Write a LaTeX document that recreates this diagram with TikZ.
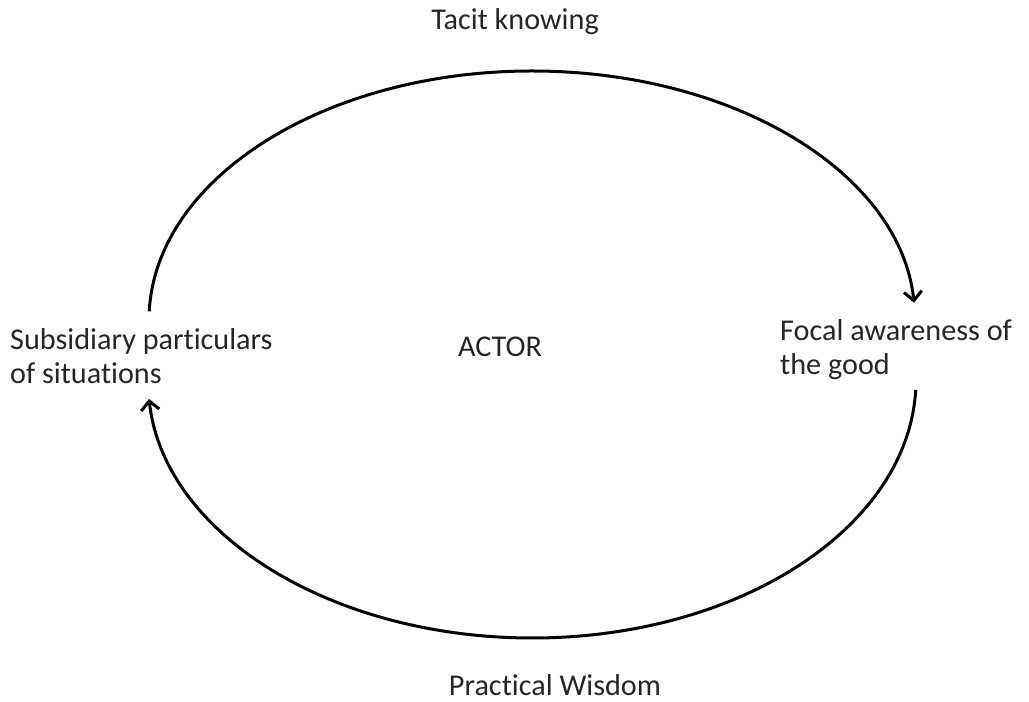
\documentclass[tikz,border=0pt]{standalone}
\usepackage{fontspec}
\setmainfont[Ligatures=CommonOff]{Carlito}
\usetikzlibrary{arrows.meta}
\begin{document}
\begin{tikzpicture}[x=1pt,y=1pt,
  lbl/.style={inner sep=0pt, font=\fontsize{30.2}{34}\selectfont, text=black!85},
  cyc/.style={line width=3pt, -{Straight Barb[length=9pt,width=18pt]}}]
\useasboundingbox (0,0) rectangle (1029,702);
% labels
\node[lbl] (tacit) at (515,680) {Tacit knowing};
\node[lbl, anchor=west, align=left] (subs) at (10,346) {Subsidiary particulars\\of situations};
\node[lbl] (actor) at (500,355) {ACTOR};
\node[lbl, anchor=west, align=left] (focal) at (780,352) {Focal awareness of\\the good};
\node[lbl] (wisdom) at (555,17) {Practical Wisdom};
% arc end points
\coordinate (topstart) at ({532+383*cos(178)},{382+249*sin(178)});
\coordinate (botstart) at ({532+384*cos(-2.2)},{322+258*sin(-2.2)});
% cycle arcs
\draw[cyc] (topstart) arc[start angle=178, end angle=4, x radius=383, y radius=249];
\draw[cyc] (botstart) arc[start angle=-2.2, end angle=-175.8, x radius=384, y radius=258];
\end{tikzpicture}
\end{document}
